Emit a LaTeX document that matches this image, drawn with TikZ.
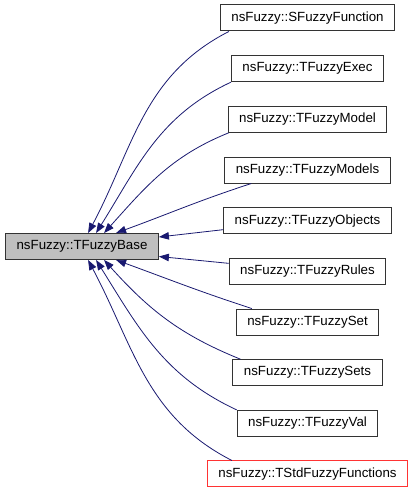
\documentclass[tikz,border=0pt]{standalone}
\usepackage{fontspec}
\setmainfont{Liberation Sans}
\usetikzlibrary{arrows.meta}
\definecolor{edgeblue}{HTML}{191970}
\definecolor{basegray}{HTML}{BFBFBF}
\definecolor{hotred}{HTML}{FF3333}
\tikzset{
    cls/.style={draw=black!80, fill=white, line width=1pt, minimum height=26pt,
        inner xsep=11pt, inner ysep=0pt, font=\fontsize{13.3}{16}\selectfont},
    clsred/.style={draw=hotred, fill=white, line width=1pt, minimum height=26pt,
        inner xsep=11pt, inner ysep=0pt, font=\fontsize{13.3}{16}\selectfont},
    basecls/.style={cls, fill=basegray},
    inh/.style={-{Triangle[length=10pt,width=7.5pt]}, draw=edgeblue, line width=0.8pt}
}

\begin{document}
\begin{tikzpicture}[x=1pt, y=1pt]
    \useasboundingbox (0,0) rectangle (413,493);
    % base class
    \node[basecls] (base) at (82,246.5) {nsFuzzy::TFuzzyBase};
    % derived classes, one column
    \foreach \i/\nm/\lab in {0/sfun/SFuzzyFunction, 1/exec/TFuzzyExec,
        2/model/TFuzzyModel, 3/models/TFuzzyModels, 4/objects/TFuzzyObjects,
        5/rules/TFuzzyRules, 6/set/TFuzzySet, 7/sets/TFuzzySets, 8/val/TFuzzyVal}{
        \node[cls] (\nm) at (307.5,475-50.67*\i) {nsFuzzy::\lab};
    }
    \node[clsred] (stdfun) at (307.5,19) {nsFuzzy::TStdFuzzyFunctions};
    % inheritance edges
    \draw[inh] ([xshift=9pt]sfun.south west) to[out=207, in=62] ([xshift=83pt]base.north west);
    \draw[inh] (exec.south west) to[out=205, in=58] ([xshift=91pt]base.north west);
    \draw[inh] ([xshift=1pt]model.south west) to[out=202, in=48] ([xshift=99pt]base.north west);
    \draw[inh] ([xshift=27pt]models.south west) to[out=198, in=20] ([xshift=111pt]base.north west);
    \draw[inh] ([yshift=-9pt]objects.west) -- ([yshift=9.5pt]base.east);
    \draw[inh] ([yshift=8pt]rules.west) -- ([yshift=-10pt]base.east);
    \draw[inh] ([xshift=16pt]set.north west) to[out=162, in=-20] ([xshift=111pt]base.south west);
    \draw[inh] ([xshift=8pt]sets.north west) to[out=158, in=-48] ([xshift=99pt]base.south west);
    \draw[inh] (val.north west) to[out=155, in=-58] ([xshift=91pt]base.south west);
    \draw[inh] ([xshift=25pt]stdfun.north west) to[out=153, in=-62] ([xshift=83pt]base.south west);
\end{tikzpicture}
\end{document}
